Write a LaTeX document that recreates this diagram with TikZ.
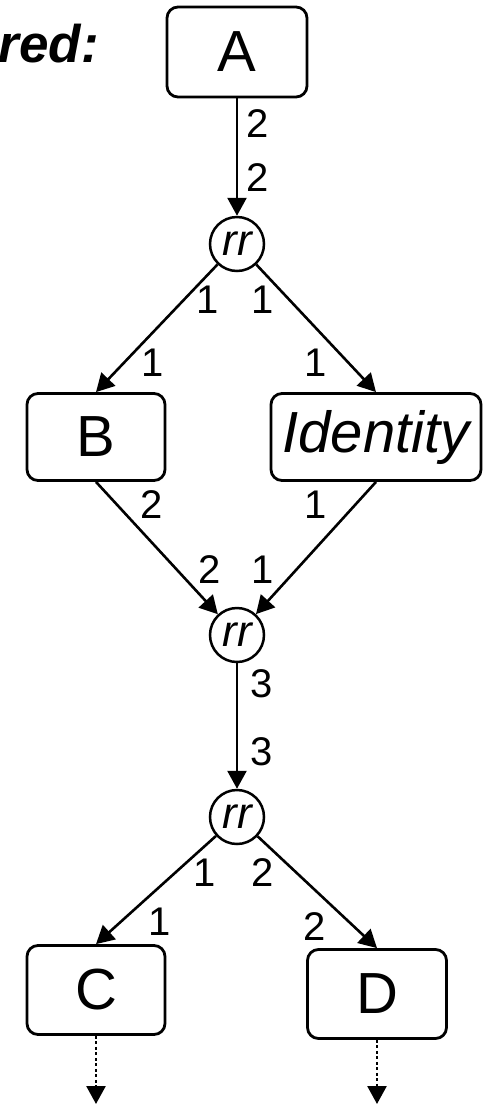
\documentclass[tikz,border=0pt]{standalone}
\usepackage{fontspec}
\setmainfont{Liberation Sans}
\usetikzlibrary{arrows.meta}
\begin{document}
\begin{tikzpicture}[x=1pt,y=-1pt,
  box/.style={draw, line width=2.8pt, rounded corners=11pt, inner sep=0pt,
    font=\fontsize{58}{62}\selectfont},
  junction/.style={draw, circle, line width=2.5pt, minimum size=54pt, inner sep=0pt,
    font=\fontsize{44}{48}\selectfont\itshape},
  flow/.style={line width=2.6pt, -{Triangle[length=18pt,width=19pt]}},
  tail/.style={flow, dash pattern=on 3pt off 2.5pt},
  lbl/.style={inner sep=0pt, font=\fontsize{40}{44}\selectfont}
]
\useasboundingbox (0,0) rectangle (483,1104);

% heading fragment
\node[anchor=base east, inner sep=0pt, font=\fontsize{53}{58}\selectfont\bfseries\itshape]
  (head) at (99,62) {red:};

% components
\node[box, minimum width=140pt, minimum height=90pt] (A) at (237,52) {A};
\node[junction] (r1) at (237,244) {rr};
\node[box, minimum width=138pt, minimum height=87pt] (B) at (96,437) {B};
\node[box, minimum width=210pt, minimum height=87pt] (I) at (376,437) {\itshape Identity};
\node[junction] (r2) at (237,635) {rr};
\node[junction] (r3) at (237,817) {rr};
\node[box, minimum width=138pt, minimum height=89pt] (C) at (96,990) {C};
\node[box, minimum width=139pt, minimum height=89pt] (D) at (377,994) {D};
\coordinate (Cout) at (96,1104);
\coordinate (Dout) at (377,1104);

% connectors
\draw[flow] (A) -- (r1);
\draw[flow] (r1) -- (B.north);
\draw[flow] (r1) -- (I.north);
\draw[flow] (B.south) -- (r2);
\draw[flow] (I.south) -- (r2);
\draw[flow] (r2) -- (r3);
\draw[flow] (r3) -- (C.north);
\draw[flow] (r3) -- (D.north);
\draw[tail] (C.south) -- (Cout);
\draw[tail] (D.south) -- (Dout);

% port numbers
\node[lbl] (la1) at (258,124) {2};
\node[lbl] (la2) at (258,178) {2};
\node[lbl] (lb1) at (208,300) {1};
\node[lbl] (lb2) at (153,363) {1};
\node[lbl] (li1) at (263,300) {1};
\node[lbl] (li2) at (316,363) {1};
\node[lbl] (lc1) at (152,505) {2};
\node[lbl] (lc2) at (210,570) {2};
\node[lbl] (ld1) at (316,505) {1};
\node[lbl] (ld2) at (263,570) {1};
\node[lbl] (le1) at (262,684) {3};
\node[lbl] (le2) at (262,752) {3};
\node[lbl] (lf1) at (205,873) {1};
\node[lbl] (lf2) at (160,922) {1};
\node[lbl] (lg1) at (263,873) {2};
\node[lbl] (lg2) at (315,927) {2};
\end{tikzpicture}
\end{document}
